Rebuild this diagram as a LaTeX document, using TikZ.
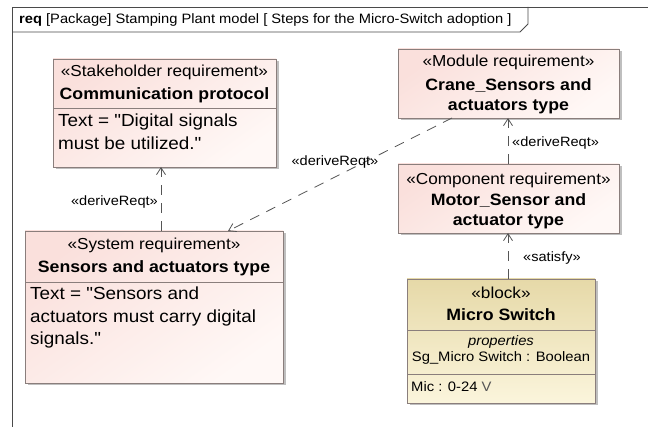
\documentclass[tikz,border=0pt]{standalone}
\usepackage{fontspec}
\setmainfont{Liberation Sans}[Ligatures=TeXOff, FakeStretch=1.08]
\usetikzlibrary{arrows.meta,shadows}

\definecolor{frameline}{HTML}{4A4A4A}
\definecolor{boxline}{HTML}{8A7E7C}
\definecolor{reqtop}{HTML}{FAE0DC}
\definecolor{reqbot}{HTML}{FFF8F6}
\definecolor{blktop}{HTML}{E6D9A8}
\definecolor{blkbot}{HTML}{FBF5DC}
\definecolor{conn}{HTML}{555555}
\definecolor{valgray}{HTML}{555555}

\tikzset{
  reqbox/.style={draw=boxline, line width=0.9pt, top color=reqtop, bottom color=reqbot,
    shading angle=35, drop shadow={shadow xshift=2.5pt, shadow yshift=-2.5pt, fill=black!45, opacity=0.55},
    anchor=north west, inner sep=0pt, outer sep=0pt},
  blkbox/.style={reqbox, top color=blktop, bottom color=blkbot},
  stereo/.style={font=\fontsize{15.9}{18}\selectfont, inner sep=0pt},
  rname/.style={font=\fontsize{16.4}{20}\selectfont\bfseries, inner sep=0pt, align=center},
  body/.style={font=\fontsize{17.5}{22.5}\selectfont, inner sep=0pt, anchor=north west, align=left},
  small/.style={font=\fontsize{13.7}{16}\selectfont, inner sep=0pt},
  lbl/.style={font=\fontsize{13.5}{15}\selectfont, inner sep=0pt},
  divider/.style={draw=boxline, line width=0.8pt},
  dep/.style={draw=conn, line width=0.8pt, dash pattern=on 10pt off 8pt,
    -{Straight Barb[length=7pt,width=9pt,line width=0.8pt]}},
}

\begin{document}
\begin{tikzpicture}[x=1pt, y=-1pt]
\useasboundingbox (0,0) rectangle (648,427);
\fill[white] (0,0) rectangle (648,427);

% diagram frame and its heading tab
\draw[frameline, line width=0.9pt] (12,432) -- (12,7) -- (655,7);
\draw[frameline, line width=0.9pt] (12,32) -- (520,32) -- (528,24) -- (528,7);
\node[anchor=west, inner sep=0pt, font=\fontsize{13.6}{16}\selectfont] (title) at (19,19.5)
  {\textbf{req} [Package] Stamping Plant model [ Steps for the Micro-Switch adoption ]};

% Stakeholder requirement
\node[reqbox, minimum width=223pt, minimum height=108pt] (stk) at (53,59) {};
\draw[divider] (53,108) -- (276,108);
\node[stereo] (stkS) at (164.5,72) {«Stakeholder requirement»};
\node[rname] (stkN) at (164.5,95) {Communication protocol};
\node[body] (stkT) at (58,114) {Text = "Digital signals\\must be utilized."};

% Module requirement
\node[reqbox, minimum width=221pt, minimum height=69pt] (mod) at (398,49) {};
\node[stereo] (modS) at (508.5,62) {«Module requirement»};
\node[rname] (modN) at (508.5,96) {Crane\_Sensors and\\actuators type};

% Component requirement
\node[reqbox, minimum width=221pt, minimum height=69pt] (cmp) at (398,164) {};
\node[stereo] (cmpS) at (508.5,180) {«Component requirement»};
\node[rname] (cmpN) at (508.5,211) {Motor\_Sensor and\\actuator type};

% System requirement
\node[reqbox, minimum width=258pt, minimum height=152pt] (sys) at (25,231) {};
\draw[divider] (25,282) -- (283,282);
\node[stereo] (sysS) at (154,245) {«System requirement»};
\node[rname] (sysN) at (154,268) {Sensors and actuators type};
\node[body] (sysT) at (30,287) {Text = "Sensors and\\actuators must carry digital\\signals."};

% Block
\node[blkbox, minimum width=188pt, minimum height=124pt] (blk) at (407,279) {};
\draw[divider] (407,330) -- (595,330);
\draw[divider] (407,374) -- (595,374);
\node[stereo] (blkS) at (501,293) {«block»};
\node[rname] (blkN) at (501,315) {Micro Switch};
\node[small, font=\fontsize{13.7}{16}\selectfont\itshape] (blkP) at (501,342) {properties};
\node[small] (blkA) at (501,358) {Sg\_Micro Switch : Boolean};
\node[small, anchor=west] (blkV) at (411,387) {Mic : 0-24 \textcolor{valgray}{V}};

% dependency connectors
\coordinate (sysA) at (161,231);
\coordinate (stkA) at (161,167);
\draw[dep] (sysA) -- (stkA);
\node[lbl, anchor=east] (l1) at (158,202) {«deriveReqt»};

\coordinate (modB) at (452,118);
\coordinate (sysB) at (228,231);
\draw[dep] (modB) -- (sysB);
\node[lbl] (l2) at (335,162) {«deriveReqt»};

\coordinate (cmpT) at (508,164);
\coordinate (modT) at (508,118);
\draw[dep] (cmpT) -- (modT);
\node[lbl, anchor=west] (l3) at (512,143) {«deriveReqt»};

\coordinate (blkT) at (508,279);
\coordinate (cmpB) at (508,233);
\draw[dep] (blkT) -- (cmpB);
\node[lbl, anchor=west] (l4) at (523,258) {«satisfy»};
\end{tikzpicture}
\end{document}
